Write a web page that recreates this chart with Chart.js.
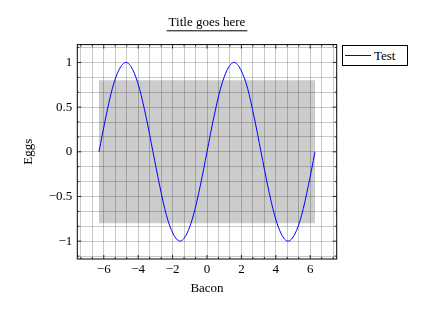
<!DOCTYPE html>
<html>
<head>
<meta charset="utf-8">
<script src="https://cdn.jsdelivr.net/npm/chart.js@4.4.0/dist/chart.umd.min.js"></script>
<style>
  body { margin: 0; background: #fff; }
  #wrap { position: relative; width: 432px; height: 312px; }
  #legend {
    position: absolute; left: 342px; top: 45px; width: 64px; height: 19px;
    border: 1px solid #000; background: #fff;
    font: 13px "Liberation Serif", serif; color: #000;
    display: flex; align-items: center;
  }
  #legend .swatch { display: inline-block; width: 26px; height: 0; border-top: 1px solid #00f; margin: 0 3px 0 2px; }
</style>
</head>
<body>
<div id="wrap">
  <canvas id="chart" width="432" height="312"></canvas>
  <div id="legend"></div>
</div>
<script>
// DATA
const titleText = "Title goes here";
const xLabel = "Bacon";
const yLabel = "Eggs";
const seriesName = "Test";

const sineX = [-6.28, -5.89, -5.50, -5.11, -4.71, -4.32, -3.93, -3.53, -3.14,
  -2.75, -2.36, -1.96, -1.57, -1.18, -0.79, -0.39, 0, 0.39, 0.79, 1.18, 1.57,
  1.96, 2.36, 2.75, 3.14, 3.53, 3.93, 4.32, 4.71, 5.11, 5.50, 5.89, 6.28];
const sineY = [0, 0.38, 0.71, 0.92, 1, 0.92, 0.71, 0.38, 0,
  -0.38, -0.71, -0.92, -1, -0.92, -0.71, -0.38, 0, 0.38, 0.71, 0.92, 1,
  0.92, 0.71, 0.38, 0, -0.38, -0.71, -0.92, -1, -0.92, -0.71, -0.38, 0];

const rectX = [-6.28, 6.28];
const rectTop = [0.8, 0.8];
const rectBottom = -0.8;

const xMajorTicks = [-6, -4, -2, 0, 2, 4, 6];
const yMajorTicks = [-1, -0.5, 0, 0.5, 1];
const xMin = -7.54, xMax = 7.54;
const yMin = -1.2, yMax = 1.2;

// HELPERS
const FONT = "'Liberation Serif', serif";
const fmt = (v) => (v < -1e-9 ? "\u2212" : "") + String(+Math.abs(v).toFixed(2));

// grid lines: majors plus 2 minor lines between each pair, extended to the limits
function gridValues(majors, minorNum, min, max) {
  const step = (majors[1] - majors[0]) / (minorNum + 1);
  const out = [];
  let v = majors[0];
  while (v - step >= min - 1e-9) v -= step;
  for (; v <= max + 1e-9; v += step) out.push(+v.toFixed(6));
  return out;
}
const isMajor = (v, majors) => majors.some((m) => Math.abs(m - v) < 1e-6);

const underlineTitle = {
  id: "underlineTitle",
  afterDraw(chart) {
    const t = chart.titleBlock;
    if (!t) return;
    const ctx = chart.ctx;
    ctx.save();
    ctx.font = "13px " + FONT;
    const w = ctx.measureText(titleText).width + 4;
    const cx = (t.left + t.right) / 2;
    const y = t.top + 15 + 7.8 + 8;
    ctx.strokeStyle = "#000";
    ctx.lineWidth = 1;
    ctx.beginPath();
    ctx.moveTo(cx - w / 2, y);
    ctx.lineTo(cx + w / 2, y);
    ctx.stroke();
    ctx.restore();
  },
};

const frame = {
  id: "frame",
  afterDatasetsDraw(chart) {
    const { ctx, chartArea: a, scales } = chart;
    const x = scales.x, y = scales.y;
    ctx.save();
    ctx.strokeStyle = "#000";
    ctx.lineWidth = 0.8;
    ctx.beginPath();
    x.ticks.forEach((t) => {
      const px = x.getPixelForValue(t.value);
      const len = isMajor(t.value, xMajorTicks) ? 4 : 2;
      ctx.moveTo(px, a.bottom); ctx.lineTo(px, a.bottom - len);
      ctx.moveTo(px, a.top); ctx.lineTo(px, a.top + len);
    });
    y.ticks.forEach((t) => {
      const py = y.getPixelForValue(t.value);
      const len = isMajor(t.value, yMajorTicks) ? 4 : 2;
      ctx.moveTo(a.left, py); ctx.lineTo(a.left + len, py);
      ctx.moveTo(a.right, py); ctx.lineTo(a.right - len, py);
    });
    ctx.stroke();
    ctx.lineWidth = 1;
    ctx.strokeRect(a.left, a.top, a.right - a.left, a.bottom - a.top);
    ctx.restore();
  },
};

function setupChart() {
  const canvas = document.querySelector("#chart");
  Chart.defaults.font.family = FONT;
  Chart.defaults.font.size = 13;
  Chart.defaults.color = "#000";

  const gridColor = "rgba(0,0,0,0.27)";

  new Chart(canvas, {
    type: "line",
    data: {
      datasets: [
        {
          label: "rect",
          data: rectX.map((x, i) => ({ x, y: rectTop[i] })),
          borderWidth: 0,
          pointRadius: 0,
          backgroundColor: "rgba(0,0,0,0.2)",
          fill: { value: rectBottom },
          order: 2,
        },
        {
          label: seriesName,
          data: sineX.map((x, i) => ({ x, y: sineY[i] })),
          borderColor: "#0000ff",
          borderWidth: 1,
          pointRadius: 0,
          cubicInterpolationMode: "monotone",
          fill: false,
          order: 1,
        },
      ],
    },
    options: {
      responsive: false,
      animation: false,
      layout: { padding: { left: 0, right: 95.3, top: 0, bottom: 0 } },
      plugins: {
        legend: { display: false },
        tooltip: { enabled: false },
        title: {
          display: true,
          text: titleText,
          fullSize: false,
          font: { size: 13, weight: "normal", lineHeight: 1.2 },
          padding: { top: 15, bottom: 14 },
        },
      },
      scales: {
        x: {
          type: "linear",
          min: xMin,
          max: xMax,
          afterBuildTicks: (s) => {
            s.ticks = gridValues(xMajorTicks, 2, xMin, xMax).map((v) => ({ value: v }));
          },
          afterFit: (s) => { s.height = 53; },
          ticks: {
            autoSkip: false,
            maxRotation: 0,
            padding: 3,
            callback: (v) => (isMajor(v, xMajorTicks) ? fmt(v) : ""),
          },
          grid: { color: gridColor, lineWidth: 0.8, drawTicks: false },
          border: { display: false },
          title: { display: true, text: xLabel, padding: { top: 0, bottom: 16 }, font: { lineHeight: 1.2 } },
        },
        y: {
          min: yMin,
          max: yMax,
          afterBuildTicks: (s) => {
            s.ticks = gridValues(yMajorTicks, 2, yMin, yMax).map((v) => ({ value: v }));
          },
          afterFit: (s) => { s.width = 77.3; },
          ticks: {
            autoSkip: false,
            padding: 5,
            callback: (v) => (isMajor(v, yMajorTicks) ? fmt(v) : ""),
          },
          grid: { color: gridColor, lineWidth: 0.8, drawTicks: false },
          border: { display: false },
          title: { display: true, text: yLabel, padding: { top: 21, bottom: 0 }, font: { lineHeight: 1.2 } },
        },
      },
    },
    plugins: [underlineTitle, frame],
  });

  const legend = document.querySelector("#legend");
  const sw = document.createElement("span");
  sw.className = "swatch";
  const label = document.createElement("span");
  label.textContent = seriesName;
  legend.appendChild(sw);
  legend.appendChild(label);
}

document.addEventListener("DOMContentLoaded", setupChart);
</script>
</body>
</html>
